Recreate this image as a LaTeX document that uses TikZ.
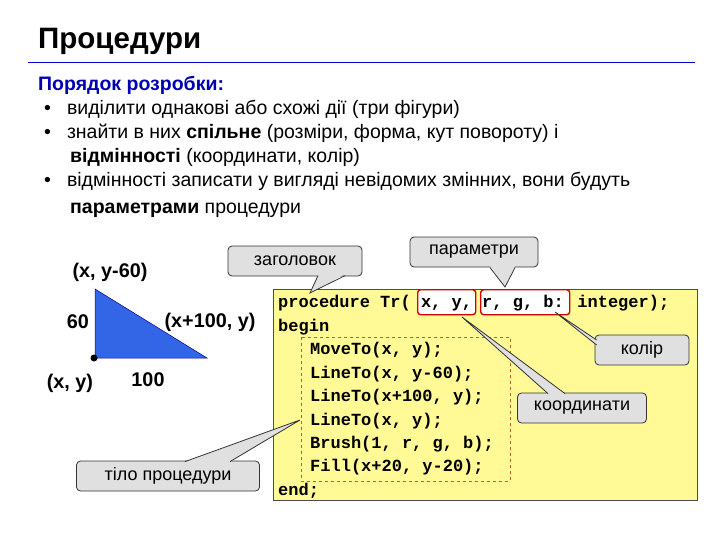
\documentclass[tikz,border=0pt]{standalone}
\usepackage{fontspec}
\setmainfont{Liberation Sans}
\newfontfamily\cmono{Liberation Mono}
\begin{document}
\begin{tikzpicture}[x=1pt,y=-1pt,
  txt/.style={anchor=base west,inner sep=0pt,font=\fontsize{19.5}{22}\selectfont},
  code/.style={anchor=base west,inner sep=0pt,font=\cmono\bfseries\fontsize{17}{19}\selectfont},
  lab/.style={inner sep=0pt,font=\bfseries\fontsize{19.8}{22}\selectfont},
  call/.style={draw=black!80,fill=black!12,rounded corners=4pt,line width=0.8pt,minimum height=30pt,font=\fontsize{18}{20}\selectfont,inner sep=0pt},
  ptr/.style={fill=black!12},
  ptrline/.style={draw=black!80,line width=0.8pt},
  redbox/.style={draw=red!85!black,line width=1.4pt,rounded corners=3pt,fill=white}]
\useasboundingbox (0,0) rectangle (720,540);
\node[anchor=base west,inner sep=0pt,font=\bfseries\fontsize{29.5}{32}\selectfont] (title) at (38,49) {Процедури};
\draw[blue!80!black,line width=1pt] (28,63) -- (695,63);
\node[txt,font=\bfseries\fontsize{19.5}{22}\selectfont,text=blue!70!black] (h) at (38,91) {Порядок розробки:};
\node[txt] (b1) at (44,115) {•\hspace{16pt}виділити однакові або схожі дії (три фігури)};
\node[txt] (b2) at (44,139) {•\hspace{16pt}знайти в них \textbf{спільне} (розміри, форма, кут повороту) і};
\node[txt] (b2b) at (70,163) {\textbf{відмінності} (координати, колір)};
\node[txt] (b3) at (44,187) {•\hspace{16pt}відмінності записати у вигляді невідомих змінних, вони будуть};
\node[txt] (b3b) at (70,214) {\textbf{параметрами} процедури};
% triangle
\fill[draw=blue!60!black,line width=0.5pt,fill={rgb,255:red,51;green,102;blue,230}] (95,289) -- (95,358) -- (207,358) -- cycle;
\fill (94,358) circle (3.5pt);
\node[lab] (l1) at (110,272) {(x, y-60)};
\node[lab] (l2) at (78,322) {60};
\node[lab] (l3) at (210,322) {(x+100, y)};
\node[lab] (l4) at (70,383) {(x, y)};
\node[lab] (l5) at (148,380) {100};
% code box
\node[draw=black!70,fill={rgb,255:red,255;green,250;blue,150},minimum width=424pt,minimum height=211pt,anchor=north west,inner sep=0pt] (box) at (273,289) {};
\draw[draw={rgb,255:red,180;green,100;blue,40},dashed,line width=0.7pt] (301,337) rectangle (510,481);
\node[redbox,minimum width=58pt,minimum height=25pt,anchor=north west] (rxy) at (417,289) {};
\node[redbox,minimum width=89pt,minimum height=25pt,anchor=north west] (rrgb) at (480,289) {};
\node[code] (c1) at (278,307) {procedure Tr( x, y, r, g, b: integer);};
\node[code] (c2) at (278,331) {begin};
\node[code] (c3) at (310,354) {MoveTo(x, y);};
\node[code] (c4) at (310,378) {LineTo(x, y-60);};
\node[code] (c5) at (310,401) {LineTo(x+100, y);};
\node[code] (c6) at (310,425) {LineTo(x, y);};
\node[code] (c7) at (310,448) {Brush(1, r, g, b);};
\node[code] (c8) at (310,471) {Fill(x+20, y-20);};
\node[code] (c9) at (278,495) {end;};
% callouts
\coordinate (p1) at (310,293); \coordinate (p2) at (505,287);
\coordinate (p3) at (555,312); \coordinate (p4) at (462,317);
\coordinate (p5) at (300,420);
\node[call,minimum width=134pt] (zag) at (295,261) {заголовок};
\node[call,minimum width=128pt] (par) at (474,252) {параметри};
\node[call,minimum width=94pt] (kol) at (642,350) {колір};
\node[call,minimum width=129pt] (koo) at (582,408) {координати};
\node[call,minimum width=183pt] (til) at (168,476) {тіло процедури};
\fill[ptr] (318,274) -- (p1) -- (345,274) -- cycle;
\draw[ptrline] (318,275.6) -- (p1) -- (345,275.6);
\fill[ptr] (490,266) -- (p2) -- (515,266) -- cycle;
\draw[ptrline] (490,267.6) -- (p2) -- (515,267.6);
\fill[ptr] (597,340) -- (p3) -- (597,345) -- cycle;
\draw[ptrline] (596.6,340) -- (p3) -- (596.6,345);
\fill[ptr] (548,394) -- (p4) -- (565,394) -- cycle;
\draw[ptrline] (548,393.6) -- (p4) -- (565,393.6);
\fill[ptr] (185,462) -- (p5) -- (230,462) -- cycle;
\draw[ptrline] (185,461.6) -- (p5) -- (230,461.6);
\end{tikzpicture}
\end{document}
